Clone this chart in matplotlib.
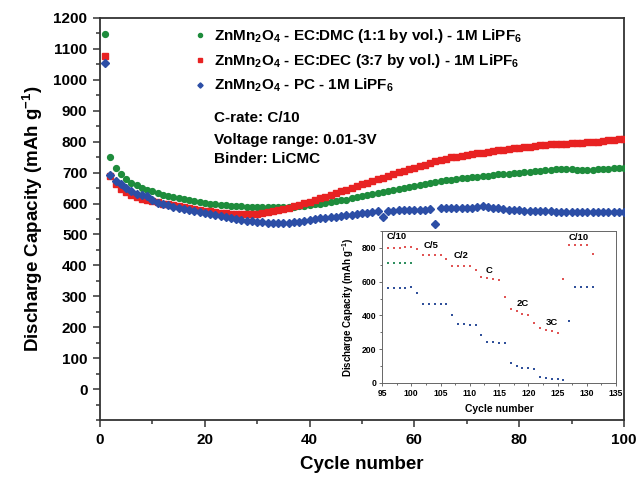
import matplotlib
matplotlib.use("Agg")
import matplotlib.pyplot as plt
from matplotlib.ticker import MultipleLocator
import numpy as np

plt.rcParams['font.family'] = ['Liberation Sans', 'DejaVu Sans']
plt.rcParams['font.weight'] = 'bold'
plt.rcParams['mathtext.fontset'] = 'custom'
plt.rcParams['mathtext.rm'] = 'Liberation Sans:bold'
plt.rcParams['mathtext.bf'] = 'Liberation Sans:bold'
plt.rcParams['mathtext.it'] = 'Liberation Sans:bold'
plt.rcParams['mathtext.default'] = 'rm'

# ---------------- main data ----------------
cycles = list(range(1, 101))
ec_dmc = [1148, 749, 714, 694, 680, 668, 659, 651, 645, 639,
          634, 629, 625, 621, 617, 614, 611, 608, 605, 602,
          600, 598, 596, 595, 593, 592, 591, 590, 590, 589,
          589, 588, 588, 588, 589, 589, 590, 591, 593, 595,
          597, 599, 601, 604, 607, 610, 613, 617, 620, 624,
          627, 631, 634, 637, 641, 644, 648, 651, 655, 658,
          661, 664, 667, 670, 672, 675, 677, 679, 681, 683,
          685, 687, 689, 690, 692, 694, 695, 697, 699, 700,
          702, 703, 705, 706, 708, 710, 712, 713, 712, 711,
          710, 710, 709, 710, 711, 712, 713, 714, 715, 716]
ec_dec = [1078, 690, 662, 646, 636, 628, 621, 616, 612, 608,
          604, 600, 597, 594, 591, 588, 585, 582, 580, 577,
          575, 573, 571, 569, 567, 566, 565, 565, 566, 567,
          569, 572, 575, 579, 583, 587, 591, 596, 601, 606,
          611, 617, 622, 628, 634, 640, 645, 651, 657, 662,
          668, 673, 678, 684, 690, 696, 701, 706, 711, 716,
          721, 726, 731, 736, 741, 745, 749, 752, 755, 758,
          761, 763, 765, 768, 770, 772, 774, 776, 778, 780,
          782, 784, 786, 788, 790, 791, 792, 793, 794, 795,
          796, 797, 798, 799, 800, 802, 804, 806, 808, 810]
pc = [1054, 692, 673, 662, 650, 640, 632, 628, 625, 610,
      603, 598, 594, 590, 586, 582, 578, 575, 572, 568,
      565, 562, 559, 556, 553, 550, 547, 544, 542, 540,
      539, 538, 537, 537, 537, 538, 539, 541, 543, 546,
      549, 552, 554, 556, 558, 560, 562, 564, 566, 568,
      571, 574, 576, 558, 575, 577, 578, 579, 579, 580,
      580, 580, 581, 535, 584, 585, 584, 585, 586, 586,
      587, 589, 591, 588, 586, 584, 582, 580, 579, 578,
      577, 576, 576, 575, 575, 575, 574, 574, 574, 574,
      574, 574, 574, 574, 574, 574, 574, 574, 574, 574]

labels = [r"ZnMn$_2$O$_4$ - EC:DMC (1:1 by vol.) - 1M LiPF$_6$",
          r"ZnMn$_2$O$_4$ - EC:DEC (3:7 by vol.) - 1M LiPF$_6$",
          r"ZnMn$_2$O$_4$ - PC - 1M LiPF$_6$"]
notes = ["C-rate: C/10", "Voltage range: 0.01-3V", "Binder: LiCMC"]

# ---------------- inset data ----------------
ins_green_x = [96, 97, 98, 99, 100]
ins_green_y = [710, 710, 710, 712, 712]
ins_red_x = [96, 97, 98, 99, 100, 101, 102, 103, 104, 105, 106, 107, 108, 109, 110,
             111, 112, 113, 114, 115, 116, 117, 118, 119, 120, 121, 122, 123, 124, 125,
             126, 127, 128, 129, 130, 131]
ins_red_y = [800, 800, 800, 805, 805, 795, 760, 755, 755, 755, 735, 695, 695, 695, 695,
             670, 625, 620, 615, 610, 510, 440, 425, 410, 405, 355, 325, 315, 310, 295,
             615, 815, 815, 815, 820, 765]
ins_blue_x = [96, 97, 98, 99, 100, 101, 102, 103, 104, 105, 106, 107, 108, 109, 110,
              111, 112, 113, 114, 115, 116, 117, 118, 119, 120, 121, 122, 123, 124, 125,
              126, 127, 128, 129, 130, 131]
ins_blue_y = [565, 565, 565, 565, 570, 530, 470, 465, 465, 465, 465, 405, 350, 350, 345,
              345, 285, 240, 240, 235, 235, 120, 100, 90, 90, 80, 35, 30, 25, 25,
              20, 365, 570, 570, 570, 570]
rate_labels = ["C/10", "C/5", "C/2", "C", "2C", "3C", "C/10"]
rate_x = [97.5, 103.4, 108.5, 113.3, 119.0, 124.0, 128.6]
rate_y = [865, 812, 752, 668, 472, 360, 862]

green = '#1e8c3c'
red = '#e82222'
blue = '#2c4ea6'

fig = plt.figure(figsize=(6.39, 4.78), dpi=100)
ax = fig.add_axes([100/639, 1-420/478, 524/639, 402/478])

ax.plot(cycles, ec_dmc, 'o', color=green, ms=4.2, mec=green, label=labels[0], zorder=3)
ax.plot(cycles, ec_dec, 's', color=red, ms=4.0, mec=red, label=labels[1], zorder=4)
ax.plot(cycles, pc, 'D', color=blue, ms=3.8, mec=blue, label=labels[2], zorder=5)

ax.set_xlim(0, 100)
ax.set_ylim(-100, 1200)
ax.set_yticks(range(0, 1201, 100))
ax.xaxis.set_major_locator(MultipleLocator(20))
ax.xaxis.set_minor_locator(MultipleLocator(10))
ax.yaxis.set_minor_locator(MultipleLocator(50))
ax.tick_params(which='both', direction='out', top=False, right=False, width=1.1, color='#333333')
ax.tick_params(which='major', length=5, labelsize=11, pad=4)
ax.tick_params(which='minor', length=3)
for lab in ax.get_xticklabels() + ax.get_yticklabels():
    lab.set_fontweight('bold')
for s in ax.spines.values():
    s.set_linewidth(1.3)
    s.set_color('#333333')

ax.set_xlabel("Cycle number", fontsize=13.5, fontweight='bold', labelpad=7)
ax.set_ylabel(r"Discharge Capacity (mAh g$^{-1}$)", fontsize=13.5, fontweight='bold', labelpad=6)

leg = ax.legend(loc='upper left', bbox_to_anchor=(0.16, 1.0), frameon=False,
                prop={'weight': 'bold', 'size': 11}, handlelength=0.9, handletextpad=0.5,
                labelspacing=0.45, borderaxespad=0.2, markerscale=0.7)

for i, t in enumerate(notes):
    ax.text(0.218, [0.751, 0.697, 0.649][i], t, transform=ax.transAxes, va='center',
            ha='left', fontsize=11, fontweight='bold')

# ---------------- inset ----------------
ins = fig.add_axes([382/639, 1-383/478, 234/639, 152/478])
ins.plot(ins_green_x, ins_green_y, 's', color='#2f8f60', ms=1.8, mew=0)
ins.plot(ins_red_x, ins_red_y, 's', color='#e05555', ms=1.8, mew=0)
ins.plot(ins_blue_x, ins_blue_y, 's', color='#30509a', ms=1.8, mew=0)
ins.set_xlim(95, 135)
ins.set_ylim(0, 900)
ins.set_xticks(range(95, 136, 5))
ins.set_yticks(range(0, 801, 200))
ins.yaxis.set_minor_locator(MultipleLocator(100))
ins.xaxis.set_minor_locator(MultipleLocator(2.5))
ins.tick_params(which='both', direction='out', top=False, right=False, width=0.6, color='#555555')
ins.tick_params(which='major', length=2.5, labelsize=6.2, pad=1.5)
ins.tick_params(which='minor', length=1.5)
for lab in ins.get_xticklabels() + ins.get_yticklabels():
    lab.set_fontweight('bold')
for s in ins.spines.values():
    s.set_linewidth(0.7)
    s.set_color('#666666')
ins.set_xlabel("Cycle number", fontsize=7.5, fontweight='bold', labelpad=5)
ins.set_ylabel(r"Discharge Capacity (mAh g$^{-1}$)", fontsize=7, fontweight='bold', labelpad=4)
for t, x, y in zip(rate_labels, rate_x, rate_y):
    ins.text(x, y, t, fontsize=6.8, fontweight='bold', ha='center', va='center')

fig.savefig("out.png", dpi=100)
